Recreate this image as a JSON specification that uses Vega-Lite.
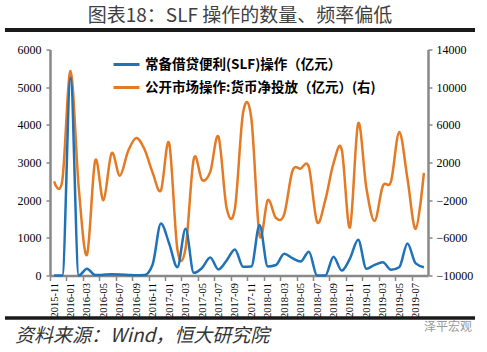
{
  "$schema": "https://vega.github.io/schema/vega-lite/v6.json",
  "background": "white",
  "autosize": {"type": "none"},
  "padding": {"left": 50, "top": 49.5, "right": 59, "bottom": 76.5},
  "width": 378,
  "height": 226,
  "data": {"values": [
    {"month": "2015-11", "slf": 0, "omo": 0},
    {"month": "2015-12", "slf": 0, "omo": 100},
    {"month": "2016-01", "slf": 5250, "omo": 11700},
    {"month": "2016-02", "slf": 0, "omo": -700},
    {"month": "2016-03", "slf": 180, "omo": -7800},
    {"month": "2016-04", "slf": 10, "omo": 2200},
    {"month": "2016-05", "slf": 20, "omo": -2000},
    {"month": "2016-06", "slf": 30, "omo": 3000},
    {"month": "2016-07", "slf": 25, "omo": 600},
    {"month": "2016-08", "slf": 15, "omo": 3200},
    {"month": "2016-09", "slf": 5, "omo": 4600},
    {"month": "2016-10", "slf": 10, "omo": 3400},
    {"month": "2016-11", "slf": 300, "omo": 900},
    {"month": "2016-12", "slf": 1380, "omo": -950},
    {"month": "2017-01", "slf": 850, "omo": 4050},
    {"month": "2017-02", "slf": 220, "omo": -7200},
    {"month": "2017-03", "slf": 1240, "omo": -7100},
    {"month": "2017-04", "slf": 70, "omo": 2400},
    {"month": "2017-05", "slf": 200, "omo": 150},
    {"month": "2017-06", "slf": 480, "omo": 1000},
    {"month": "2017-07", "slf": 160, "omo": 4750},
    {"month": "2017-08", "slf": 400, "omo": -2850},
    {"month": "2017-09", "slf": 690, "omo": -2900},
    {"month": "2017-10", "slf": 230, "omo": 7300},
    {"month": "2017-11", "slf": 240, "omo": 6700},
    {"month": "2017-12", "slf": 1340, "omo": -5700},
    {"month": "2018-01", "slf": 240, "omo": -2000},
    {"month": "2018-02", "slf": 280, "omo": -3900},
    {"month": "2018-03", "slf": 580, "omo": -3500},
    {"month": "2018-04", "slf": 460, "omo": 1100},
    {"month": "2018-05", "slf": 370, "omo": 1350},
    {"month": "2018-06", "slf": 630, "omo": 1500},
    {"month": "2018-07", "slf": 0, "omo": -4300},
    {"month": "2018-08", "slf": 0, "omo": -2000},
    {"month": "2018-09", "slf": 500, "omo": 1900},
    {"month": "2018-10", "slf": 130, "omo": 3400},
    {"month": "2018-11", "slf": 450, "omo": -4900},
    {"month": "2018-12", "slf": 950, "omo": 6150},
    {"month": "2019-01", "slf": 180, "omo": -700},
    {"month": "2019-02", "slf": 280, "omo": -4200},
    {"month": "2019-03", "slf": 350, "omo": -500},
    {"month": "2019-04", "slf": 150, "omo": 0},
    {"month": "2019-05", "slf": 220, "omo": 5250},
    {"month": "2019-06", "slf": 850, "omo": 300},
    {"month": "2019-07", "slf": 320, "omo": -5050},
    {"month": "2019-08", "slf": 220, "omo": 900}
  ]},
  "layer": [
    {
      "data": {"values": [{"k": "top"}]},
      "mark": {"type": "tick", "orient": "horizontal", "size": 470, "thickness": 4, "color": "#1a1a1a", "opacity": 1},
      "encoding": {
        "x": {"datum": 0.5026, "type": "quantitative", "scale": {"domain": [0, 1], "nice": false, "zero": false}, "axis": null},
        "y": {"datum": 1.0863, "type": "quantitative", "scale": {"domain": [0, 1], "nice": false, "zero": false}, "axis": null}
      }
    },
    {
      "data": {"values": [{"k": "bottom"}]},
      "mark": {"type": "tick", "orient": "horizontal", "size": 470, "thickness": 3, "color": "#1a1a1a", "opacity": 1},
      "encoding": {
        "x": {"datum": 0.5026, "type": "quantitative", "scale": {"domain": [0, 1], "nice": false, "zero": false}, "axis": null},
        "y": {"datum": -0.1881, "type": "quantitative", "scale": {"domain": [0, 1], "nice": false, "zero": false}, "axis": null}
      }
    },
    {
      "mark": {"type": "line", "interpolate": "cardinal", "strokeWidth": 2.5},
      "encoding": {
        "x": {
          "field": "month", "type": "ordinal", "sort": null,
          "scale": {"type": "point", "padding": 0.5},
          "axis": {
            "title": null,
            "values": ["2015-11","2016-01","2016-03","2016-05","2016-07","2016-09","2016-11","2017-01","2017-03","2017-05","2017-07","2017-09","2017-11","2018-01","2018-03","2018-05","2018-07","2018-09","2018-11","2019-01","2019-03","2019-05","2019-07"],
            "labelAngle": 270,
            "labelFont": "Liberation Serif",
            "labelFontSize": 10.5,
            "labelColor": "#000000",
            "labelPadding": 2,
            "tickOffset": -4.1,
            "labelOffset": 4.1,
            "tickSize": 5,
            "tickColor": "#888888",
            "tickWidth": 1.5,
            "domainColor": "#888888",
            "domainWidth": 2.5,
            "grid": false,
            "labelOverlap": false
          }
        },
        "y": {
          "field": "omo", "type": "quantitative",
          "scale": {"domain": [-10000, 14000], "nice": false, "zero": false},
          "axis": {
            "orient": "right", "title": null, "format": "d",
            "values": [-10000, -6000, -2000, 2000, 6000, 10000, 14000],
            "labelFont": "Liberation Serif", "labelFontSize": 12, "labelColor": "#000000",
            "labelPadding": 4, "tickSize": 4, "tickColor": "#888888", "tickWidth": 1.5,
            "domainColor": "#888888", "domainWidth": 2.5, "grid": false
          }
        },
        "color": {
          "datum": "公开市场操作:货币净投放（亿元）(右)",
          "type": "nominal",
          "scale": {"domain": ["常备借贷便利(SLF)操作（亿元）", "公开市场操作:货币净投放（亿元）(右)"], "range": ["#2072B8", "#E57A25"]},
          "legend": {
            "title": null, "orient": "none", "legendX": 66, "legendY": 4.5,
            "symbolType": "M-1.5,0H1.5", "symbolSize": 300, "symbolStrokeWidth": 3,
            "labelFont": "Noto Sans CJK SC", "labelFontSize": 13.5, "labelFontWeight": "bold",
            "labelColor": "#000000", "labelOffset": 8, "rowPadding": 6, "labelLimit": 400
          }
        }
      }
    },
    {
      "mark": {"type": "line", "interpolate": "monotone", "strokeWidth": 2.5},
      "encoding": {
        "x": {"field": "month", "type": "ordinal", "sort": null, "scale": {"type": "point", "padding": 0.5}, "axis": null},
        "y": {
          "field": "slf", "type": "quantitative",
          "scale": {"domain": [0, 6000], "nice": false},
          "axis": {
            "orient": "left", "title": null, "format": "d",
            "values": [0, 1000, 2000, 3000, 4000, 5000, 6000],
            "labelFont": "Liberation Serif", "labelFontSize": 12, "labelColor": "#000000",
            "labelPadding": 5, "tickSize": 4, "tickColor": "#888888", "tickWidth": 1.5,
            "domainColor": "#888888", "domainWidth": 2.5, "grid": false
          }
        },
        "color": {
          "datum": "常备借贷便利(SLF)操作（亿元）",
          "type": "nominal",
          "scale": {"domain": ["常备借贷便利(SLF)操作（亿元）", "公开市场操作:货币净投放（亿元）(右)"], "range": ["#2072B8", "#E57A25"]}
        }
      }
    },
    {
      "data": {"values": [{"k": "top2"}]},
      "mark": {"type": "rule", "color": "#1a1a1a", "strokeWidth": 4},
      "encoding": {
        "x": {"datum": -0.119, "type": "quantitative", "scale": {"domain": [0, 1], "nice": false, "zero": false}, "axis": null},
        "x2": {"datum": 1.1243},
        "y": {"datum": 1.0863, "type": "quantitative", "scale": {"domain": [0, 1], "nice": false, "zero": false}, "axis": null}
      }
    },
    {
      "data": {"values": [{"k": "bottom2"}]},
      "mark": {"type": "rule", "color": "#1a1a1a", "strokeWidth": 3},
      "encoding": {
        "x": {"datum": -0.119, "type": "quantitative", "scale": {"domain": [0, 1], "nice": false, "zero": false}, "axis": null},
        "x2": {"datum": 1.1243},
        "y": {"datum": -0.1881, "type": "quantitative", "scale": {"domain": [0, 1], "nice": false, "zero": false}, "axis": null}
      }
    },
    {
      "data": {"values": [{"k": "title"}]},
      "mark": {"type": "text", "text": "图表18：SLF 操作的数量、频率偏低", "font": "Noto Sans CJK SC", "fontSize": 19, "color": "#404040", "align": "center", "baseline": "middle"},
      "encoding": {
        "x": {"datum": 0.5026, "type": "quantitative", "scale": {"domain": [0, 1], "nice": false, "zero": false}, "axis": null},
        "y": {"datum": 1.1504, "type": "quantitative", "scale": {"domain": [0, 1], "nice": false, "zero": false}, "axis": null}
      }
    },
    {
      "data": {"values": [{"k": "source"}]},
      "mark": {"type": "text", "text": "资料来源：Wind，恒大研究院", "font": "Noto Sans CJK SC", "fontSize": 19, "fontStyle": "italic", "color": "#333333", "align": "left", "baseline": "middle"},
      "encoding": {
        "x": {"datum": -0.0926, "type": "quantitative", "scale": {"domain": [0, 1], "nice": false, "zero": false}, "axis": null},
        "y": {"datum": -0.2677, "type": "quantitative", "scale": {"domain": [0, 1], "nice": false, "zero": false}, "axis": null}
      }
    },
    {
      "data": {"values": [{"k": "mark"}]},
      "mark": {"type": "text", "text": "泽平宏观", "font": "Noto Sans CJK SC", "fontSize": 12, "color": "#999999", "align": "right", "baseline": "middle"},
      "encoding": {
        "x": {"datum": 1.1164, "type": "quantitative", "scale": {"domain": [0, 1], "nice": false, "zero": false}, "axis": null},
        "y": {"datum": -0.2279, "type": "quantitative", "scale": {"domain": [0, 1], "nice": false, "zero": false}, "axis": null}
      }
    }
  ],
  "resolve": {"scale": {"x": "independent", "y": "independent"}},
  "config": {"view": {"stroke": null}}
}
